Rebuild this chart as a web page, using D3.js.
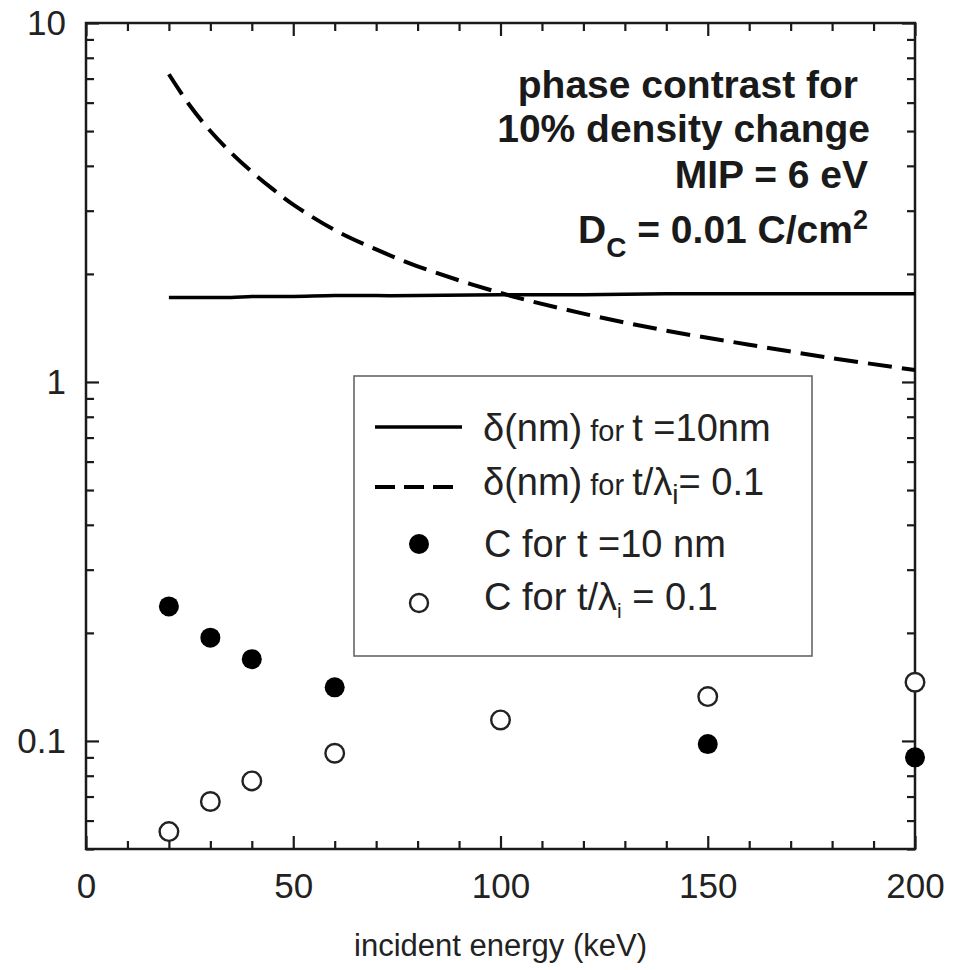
<!DOCTYPE html>
<html>
<head>
<meta charset="utf-8">
<script src="https://cdn.jsdelivr.net/npm/d3@7"></script>
<style>
  body { margin: 0; background: #fff; }
  svg { display: block; font-family: "Liberation Sans", Arial, sans-serif; }
</style>
</head>
<body>
<div id="chart"></div>
<script>
// energies (keV) and values
const lineX = [20, 25, 30, 35, 40, 45, 50, 60, 70, 80, 100, 120, 140, 160, 180, 200];
const deltaT10 = [1.72, 1.72, 1.72, 1.72, 1.73, 1.73, 1.73, 1.74, 1.74, 1.74, 1.75, 1.75, 1.76, 1.76, 1.76, 1.76];
const deltaLam = [7.2, 5.9, 5.0, 4.35, 3.85, 3.45, 3.12, 2.65, 2.34, 2.1, 1.77, 1.55, 1.39, 1.27, 1.165, 1.08];

const pointX = [20, 30, 40, 60, 150, 200];
const cT10 = [0.237, 0.194, 0.169, 0.141, 0.098, 0.090];
const openX = [20, 30, 40, 60, 100, 150, 200];
const cLam = [0.0559, 0.0678, 0.0774, 0.0924, 0.1144, 0.1329, 0.1457];

const xMajor = [0, 50, 100, 150, 200];
const yMajor = [0.1, 1, 10];
const yLabels = ["0.1", "1", "10"];

const W = 961, H = 970;
const L = 86, R = 915, T = 23, B = 849;

const svg = d3.select("#chart").append("svg")
    .attr("width", W)
    .attr("height", H);

const x = d3.scaleLinear().domain([0, 200]).range([L, R]);
const y = d3.scaleLog().domain([0.05, 10]).range([B, T]);

const ink = "#1a1a1a";

// minor ticks
const xMinor = d3.range(0, 201, 10).filter(v => v % 50 !== 0);
let yMinor = [];
[0.01, 0.1, 1].forEach(d => { for (let k = 2; k <= 9; k++) { const v = +(k * d).toFixed(3); if (v >= 0.05 && v < 10) yMinor.push(v); } });

function styleAxis(g) {
    g.select(".domain").remove();
    g.selectAll(".tick line").attr("stroke", ink).attr("stroke-width", 2.2);
    g.selectAll(".tick text").attr("fill", "#222").style("font-size", "35px");
}

// bottom
svg.append("g").attr("transform", `translate(0,${B})`)
    .call(d3.axisBottom(x).tickValues(xMajor).tickSize(-13).tickPadding(24).tickFormat(d3.format("d")))
    .call(styleAxis);
svg.append("g").attr("transform", `translate(0,${B})`)
    .call(d3.axisBottom(x).tickValues(xMinor).tickSize(-8).tickFormat(""))
    .call(styleAxis);
// top
svg.append("g").attr("transform", `translate(0,${T})`)
    .call(d3.axisTop(x).tickValues(xMajor).tickSize(-13).tickFormat(""))
    .call(styleAxis);
svg.append("g").attr("transform", `translate(0,${T})`)
    .call(d3.axisTop(x).tickValues(xMinor).tickSize(-8).tickFormat(""))
    .call(styleAxis);
// left
svg.append("g").attr("transform", `translate(${L},0)`)
    .call(d3.axisLeft(y).tickValues(yMajor).tickSize(-13).tickPadding(20).tickFormat((d, i) => yLabels[i]))
    .call(styleAxis);
svg.append("g").attr("transform", `translate(${L},0)`)
    .call(d3.axisLeft(y).tickValues(yMinor).tickSize(-8).tickFormat(""))
    .call(styleAxis);
// right
svg.append("g").attr("transform", `translate(${R},0)`)
    .call(d3.axisRight(y).tickValues(yMajor).tickSize(-13).tickFormat(""))
    .call(styleAxis);
svg.append("g").attr("transform", `translate(${R},0)`)
    .call(d3.axisRight(y).tickValues(yMinor).tickSize(-8).tickFormat(""))
    .call(styleAxis);

// frame
svg.append("rect")
    .attr("x", L).attr("y", T)
    .attr("width", R - L).attr("height", B - T)
    .attr("fill", "none").attr("stroke", ink).attr("stroke-width", 2.5);

// axis title
svg.append("text")
    .attr("x", (L + R) / 2).attr("y", 956)
    .attr("text-anchor", "middle")
    .attr("fill", "#222")
    .style("font-size", "31px")
    .text("incident energy (keV)");

// lines
const line = d3.line().x(d => x(d[0])).y(d => y(d[1])).curve(d3.curveCatmullRom);

svg.append("path")
    .datum(lineX.map((v, i) => [v, deltaT10[i]]))
    .attr("d", line)
    .attr("fill", "none").attr("stroke", "#000").attr("stroke-width", 3.5);

svg.append("path")
    .datum(lineX.map((v, i) => [v, deltaLam[i]]))
    .attr("d", line)
    .attr("fill", "none").attr("stroke", "#000").attr("stroke-width", 4)
    .attr("stroke-dasharray", "24,10");

// points
svg.append("g").selectAll("circle")
    .data(pointX.map((v, i) => [v, cT10[i]]))
    .enter().append("circle")
    .attr("cx", d => x(d[0])).attr("cy", d => y(d[1]))
    .attr("r", 10)
    .attr("fill", "#000");

svg.append("g").selectAll("circle")
    .data(openX.map((v, i) => [v, cLam[i]]))
    .enter().append("circle")
    .attr("cx", d => x(d[0])).attr("cy", d => y(d[1]))
    .attr("r", 9.3)
    .attr("fill", "#fff").attr("stroke", "#222").attr("stroke-width", 2.4);

// annotation
const note = svg.append("g")
    .attr("text-anchor", "end")
    .style("font-weight", "bold")
    .style("font-size", "39px")
    .attr("fill", "#1a1a1a");
note.append("text").attr("x", 858).attr("y", 98).text("phase contrast for");
note.append("text").attr("x", 870).attr("y", 142).text("10% density change");
note.append("text").attr("x", 868).attr("y", 188).text("MIP = 6 eV");
const dc = note.append("text").attr("x", 868).attr("y", 243);
dc.append("tspan").text("D");
dc.append("tspan").attr("dy", 14).style("font-size", "28px").text("C");
dc.append("tspan").attr("dy", -14).text(" = 0.01 C/cm");
dc.append("tspan").attr("dy", -14).style("font-size", "27px").text("2");

// legend
const lg = svg.append("g");
lg.append("rect")
    .attr("x", 354).attr("y", 376)
    .attr("width", 458).attr("height", 280)
    .attr("fill", "#fff").attr("stroke", "#666").attr("stroke-width", 1.6);

lg.append("line").attr("x1", 375).attr("x2", 462).attr("y1", 427).attr("y2", 427)
    .attr("stroke", "#000").attr("stroke-width", 3.5);
lg.append("line").attr("x1", 375).attr("x2", 462).attr("y1", 487).attr("y2", 487)
    .attr("stroke", "#000").attr("stroke-width", 4).attr("stroke-dasharray", "20,9");
lg.append("circle").attr("cx", 419).attr("cy", 544).attr("r", 10).attr("fill", "#000");
lg.append("circle").attr("cx", 419).attr("cy", 603).attr("r", 9)
    .attr("fill", "#fff").attr("stroke", "#222").attr("stroke-width", 2.4);

const lt = lg.append("g").attr("fill", "#222").style("font-size", "38px");
const r1 = lt.append("text").attr("x", 483).attr("y", 441);
r1.append("tspan").text("δ(nm)");
r1.append("tspan").style("font-size", "29px").text(" for ");
r1.append("tspan").text("t =10nm");

const r2 = lt.append("text").attr("x", 483).attr("y", 495);
r2.append("tspan").text("δ(nm)");
r2.append("tspan").style("font-size", "29px").text(" for ");
r2.append("tspan").text("t/λ");
r2.append("tspan").attr("dy", 9).style("font-size", "28px").text("i");
r2.append("tspan").attr("dy", -9).text("= 0.1");

const r3 = lt.append("text").attr("x", 484).attr("y", 557);
r3.append("tspan").text("C for t =10 nm");

const r4 = lt.append("text").attr("x", 484).attr("y", 610);
r4.append("tspan").text("C for t/λ");
r4.append("tspan").attr("dy", 8).style("font-size", "21px").text("i");
r4.append("tspan").attr("dy", -8).text(" = 0.1");
</script>
</body>
</html>
